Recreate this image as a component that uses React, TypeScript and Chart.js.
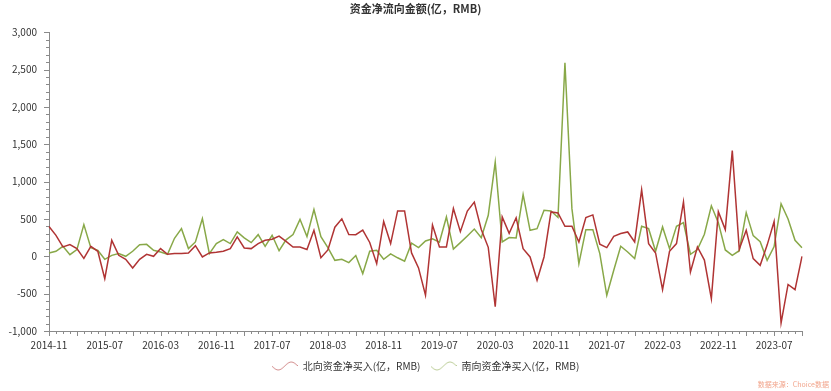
import React, { useEffect, useRef } from 'react';
import { Chart, registerables } from 'chart.js';

Chart.register(...registerables);

const categories: string[] = [
  '2014-11', '2014-12',
  '2015-01', '2015-02', '2015-03', '2015-04', '2015-05', '2015-06', '2015-07', '2015-08', '2015-09', '2015-10', '2015-11', '2015-12',
  '2016-01', '2016-02', '2016-03', '2016-04', '2016-05', '2016-06', '2016-07', '2016-08', '2016-09', '2016-10', '2016-11', '2016-12',
  '2017-01', '2017-02', '2017-03', '2017-04', '2017-05', '2017-06', '2017-07', '2017-08', '2017-09', '2017-10', '2017-11', '2017-12',
  '2018-01', '2018-02', '2018-03', '2018-04', '2018-05', '2018-06', '2018-07', '2018-08', '2018-09', '2018-10', '2018-11', '2018-12',
  '2019-01', '2019-02', '2019-03', '2019-04', '2019-05', '2019-06', '2019-07', '2019-08', '2019-09', '2019-10', '2019-11', '2019-12',
  '2020-01', '2020-02', '2020-03', '2020-04', '2020-05', '2020-06', '2020-07', '2020-08', '2020-09', '2020-10', '2020-11', '2020-12',
  '2021-01', '2021-02', '2021-03', '2021-04', '2021-05', '2021-06', '2021-07', '2021-08', '2021-09', '2021-10', '2021-11', '2021-12',
  '2022-01', '2022-02', '2022-03', '2022-04', '2022-05', '2022-06', '2022-07', '2022-08', '2022-09', '2022-10', '2022-11', '2022-12',
  '2023-01', '2023-02', '2023-03', '2023-04', '2023-05', '2023-06', '2023-07', '2023-08', '2023-09', '2023-10', '2023-11',
];

const xTickLabels: string[] = [
  '2014-11', '2015-07', '2016-03', '2016-11', '2017-07', '2018-03', '2018-11',
  '2019-07', '2020-03', '2020-11', '2021-07', '2022-03', '2022-11', '2023-07',
];

const yTickValues: number[] = [-1000, -500, 0, 500, 1000, 1500, 2000, 2500, 3000];

const northbound: number[] = [
  400, 281, 125, 156, 103, -27, 134, 67, -300, 214,
  13, -40, -156, -40, 27, 0, 103, 27, 36, 36,
  45, 143, -9, 45, 54, 67, 103, 259, 112, 103,
  170, 214, 228, 270, 200, 125, 125, 92, 348, -18,
  85, 390, 502, 292, 290, 350, 185, -98, 465, 170,
  607, 607, 45, -155, -522, 420, 125, 125, 640, 330,
  605, 726, 360, 120, -675, 527, 308, 516, 103, -9,
  -321, -9, 594, 580, 402, 402, 192, 518, 554, 161,
  116, 268, 304, 326, 192, 890, 170, 45, -446, 67,
  170, 728, -210, 125, -50, -567, 598, 357, 1415, 95,
  348, -31, -121, 150, 465, -893, -377, -446, 0,
];

const southbound: number[] = [
  45, 67, 134, 22, 89, 424, 116, 80, -40, 13,
  36, 0, 67, 156, 160, 80, 58, 27, 241, 370,
  103, 192, 504, 36, 170, 223, 170, 326, 246, 183,
  290, 134, 281, 75, 221, 290, 495, 265, 625, 263,
  115, -54, -40, -85, 10, -232, 67, 80, -40, 33,
  -20, -65, 175, 116, 205, 235, 190, 527, 96, 183,
  272, 365, 250, 549, 1259, 192, 250, 246, 826, 348,
  370, 616, 607, 520, 2590, 638, -98, 357, 357, 36,
  -522, -187, 134, 58, -31, 402, 370, 67, 393, 103,
  402, 451, 27, 90, 295, 676, 450, 85, 13, 75,
  585, 276, 196, -54, 130, 703, 500, 214, 114,
];

const seriesNames: string[] = ['北向资金净买入(亿，RMB)', '南向资金净买入(亿，RMB)'];
const titleText = '资金净流向金额(亿，RMB)';
const sourceText = '数据来源：Choice数据';

const RED = '#B03434';
const GREEN = '#88A848';
const AXIS = '#8A8A8A';
const TEXT = '#333333';
const FONT = '"Noto Sans CJK SC", "Noto Sans", sans-serif';

function makeWave(color: string): HTMLCanvasElement {
  const c = document.createElement('canvas');
  c.width = 26;
  c.height = 12;
  const g = c.getContext('2d')!;
  g.strokeStyle = color;
  g.globalAlpha = 0.55;
  g.lineWidth = 1;
  g.beginPath();
  for (let k = 0; k <= 26; k++) {
    const py = 6 + 4 * Math.sin((k / 26) * 2 * Math.PI);
    if (k === 0) g.moveTo(k, py);
    else g.lineTo(k, py);
  }
  g.stroke();
  return c;
}

const tickMarksPlugin = {
  id: 'tickMarks',
  afterDraw(chart: any) {
    const { ctx, chartArea } = chart;
    const x = chart.scales.x;
    const y = chart.scales.y;
    ctx.save();
    ctx.strokeStyle = AXIS;
    ctx.lineWidth = 1;
    ctx.beginPath();
    for (let i = 0; i < categories.length; i++) {
      const px = Math.round(x.getPixelForTick(i)) + 0.5;
      const len = i % 4 === 0 ? 5 : 3;
      ctx.moveTo(px, chartArea.bottom);
      ctx.lineTo(px, chartArea.bottom + len);
    }
    const minV = yTickValues[0];
    const maxV = yTickValues[yTickValues.length - 1];
    for (let v = minV; v <= maxV; v += 100) {
      const py = Math.round(y.getPixelForValue(v)) + 0.5;
      const len = v % 500 === 0 ? 5 : 3;
      ctx.moveTo(chartArea.left, py);
      ctx.lineTo(chartArea.left - len, py);
    }
    ctx.stroke();
    ctx.font = `7px ${FONT}`;
    ctx.fillStyle = '#F2A58C';
    ctx.textAlign = 'right';
    ctx.textBaseline = 'middle';
    ctx.fillText(sourceText, chart.width - 2, 384);
    ctx.restore();
  },
};

export default function App() {
  const canvasRef = useRef<HTMLCanvasElement | null>(null);

  useEffect(() => {
    if (!canvasRef.current) return;
    Chart.defaults.font.family = FONT;
    const chart = new Chart(canvasRef.current, {
      type: 'line',
      data: {
        labels: categories,
        datasets: [
          {
            label: seriesNames[0],
            data: northbound,
            borderColor: RED,
            backgroundColor: RED,
            borderWidth: 1.5,
            pointRadius: 0,
            pointHoverRadius: 0,
            tension: 0,
            pointStyle: makeWave(RED) as any,
          },
          {
            label: seriesNames[1],
            data: southbound,
            borderColor: GREEN,
            backgroundColor: GREEN,
            borderWidth: 1.5,
            pointRadius: 0,
            pointHoverRadius: 0,
            tension: 0,
            pointStyle: makeWave(GREEN) as any,
          },
        ],
      },
      options: {
        responsive: false,
        animation: false,
        devicePixelRatio: 1,
        layout: { padding: { left: 0, right: 0, top: 0, bottom: 10 } },
        plugins: {
          title: {
            display: true,
            text: titleText,
            color: TEXT,
            font: { size: 11, weight: 'bold', family: FONT },
            padding: { top: 2, bottom: 17 },
          },
          legend: {
            display: true,
            position: 'bottom',
            fullSize: false,
            labels: {
              usePointStyle: true,
              pointStyleWidth: 26,
              color: TEXT,
              font: { size: 10, family: FONT },
              padding: 10,
            },
          },
          tooltip: { enabled: false },
        },
        scales: {
          x: {
            type: 'category',
            offset: false,
            grid: { display: false, drawTicks: false, tickLength: 0 },
            border: { display: true, color: AXIS, width: 1 },
            afterFit: (s: any) => {
              s.height = 20;
            },
            ticks: {
              autoSkip: false,
              maxRotation: 0,
              minRotation: 0,
              padding: 8,
              color: TEXT,
              font: { size: 10, family: FONT },
              callback: (_v: any, idx: number) =>
                xTickLabels.includes(categories[idx]) ? categories[idx] : '',
            },
          },
          y: {
            type: 'linear',
            position: 'left',
            min: yTickValues[0],
            max: yTickValues[yTickValues.length - 1],
            afterBuildTicks: (s: any) => {
              s.ticks = yTickValues.map((v) => ({ value: v }));
            },
            afterFit: (s: any) => {
              s.width = 49;
            },
            grid: { display: false, drawTicks: false, tickLength: 0 },
            border: { display: true, color: AXIS, width: 1 },
            ticks: {
              padding: 12,
              color: TEXT,
              font: { size: 10, family: FONT },
              callback: (v: any) => Number(v).toLocaleString('en-US'),
            },
          },
          yRight: {
            type: 'linear',
            position: 'right',
            display: true,
            grid: { display: false },
            border: { display: false },
            ticks: { display: false },
            afterFit: (s: any) => {
              s.width = 29;
            },
          },
        },
      },
      plugins: [tickMarksPlugin],
    } as any);
    return () => chart.destroy();
  }, []);

  return (
    <div style={{ position: 'fixed', left: 0, top: 0, width: 831, height: 391, background: '#fff' }}>
      <canvas ref={canvasRef} width={831} height={391} style={{ display: 'block' }} />
    </div>
  );
}
